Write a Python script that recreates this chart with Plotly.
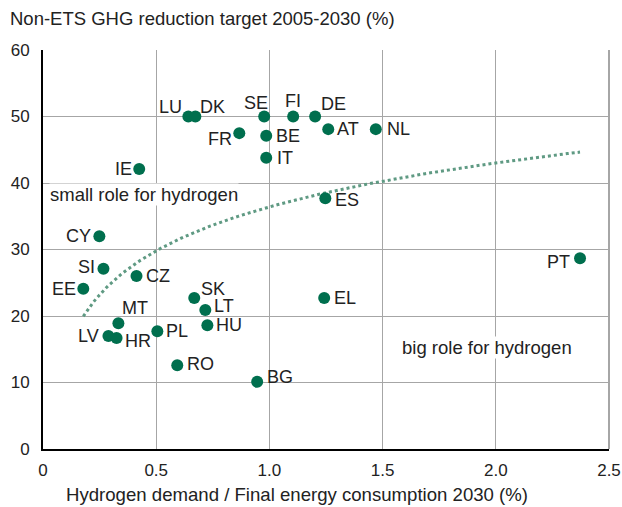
import numpy as np
import plotly.graph_objects as go

# Member states: hydrogen share of final energy demand 2030 (%) vs non-ETS GHG target (%)
countries = ["LU", "DK", "SE", "FI", "DE", "FR", "BE", "AT", "NL", "IT", "IE", "ES",
             "CY", "SI", "CZ", "EE", "SK", "LT", "HU", "EL", "MT", "LV", "HR", "PL",
             "RO", "BG", "PT"]
h2_share = [0.642, 0.673, 0.977, 1.105, 1.202, 0.867, 0.986, 1.26, 1.47, 0.986, 0.425, 1.247,
            0.249, 0.267, 0.413, 0.178, 0.668, 0.717, 0.726, 1.242, 0.333, 0.289, 0.325, 0.505,
            0.593, 0.946, 2.372]
ghg_target = [50, 50, 50, 50, 50, 47.5, 47.1, 48.1, 48.1, 43.8, 42.1, 37.7,
              32.0, 27.1, 26.0, 24.1, 22.7, 20.9, 18.6, 22.7, 18.9, 17.0, 16.7, 17.7,
              12.6, 10.1, 28.7]

# label placement per country: (xanchor, yanchor, xshift, yshift)
label_pos = {
    "LU": ("right", "middle", -4, 10), "DK": ("left", "middle", 3, 10),
    "SE": ("center", "middle", -8, 14), "FI": ("center", "middle", 0, 16),
    "DE": ("left", "middle", 4, 13), "FR": ("right", "middle", -5, -6),
    "BE": ("left", "middle", 8, 0), "AT": ("left", "middle", 7, 0),
    "NL": ("left", "middle", 9, 0), "IT": ("left", "middle", 9, 0),
    "IE": ("right", "middle", -5, 0), "ES": ("left", "middle", 8, -2),
    "CY": ("right", "middle", -6, 0), "SI": ("right", "middle", -6, 2),
    "CZ": ("left", "middle", 7, 0), "EE": ("right", "middle", -5, 0),
    "SK": ("left", "middle", 5, 9), "LT": ("left", "middle", 7, 4),
    "HU": ("left", "middle", 7, 0), "EL": ("left", "middle", 8, 0),
    "MT": ("left", "middle", 2, 15), "LV": ("right", "middle", -7, 0),
    "HR": ("left", "middle", 6, -3), "PL": ("left", "middle", 7, 0),
    "RO": ("left", "middle", 8, 1), "BG": ("left", "middle", 8, 5),
    "PT": ("right", "middle", -8, -4),
}

GREEN = "#006f4e"
INK = "#222222"
FONT = "Liberation Sans, Arial, sans-serif"

# logarithmic trendline fitted to all countries
lx = np.log(np.array(h2_share))
b, a = np.polyfit(lx, np.array(ghg_target), 1)
xs = np.linspace(min(h2_share), max(h2_share), 200)
ys = a + b * np.log(xs)

fig = go.Figure()
fig.add_trace(go.Scatter(
    x=xs, y=ys, mode="lines",
    line=dict(color="#5f9a83", width=3, dash="dot"),
    hoverinfo="skip", showlegend=False,
))
fig.add_trace(go.Scatter(
    x=h2_share, y=ghg_target, mode="markers", text=countries,
    marker=dict(color=GREEN, size=12),
    showlegend=False,
))

for c, xv, yv in zip(countries, h2_share, ghg_target):
    xa, ya, dx, dy = label_pos[c]
    fig.add_annotation(x=xv, y=yv, text=c, showarrow=False,
                       xanchor=xa, yanchor=ya, xshift=dx, yshift=dy,
                       font=dict(size=18, color=INK, family=FONT))

fig.add_annotation(x=0.026, y=38.2, text="small role for hydrogen", showarrow=False,
                   xanchor="left", yanchor="middle", bgcolor="white", borderpad=0,
                   font=dict(size=18.5, color=INK, family=FONT))
fig.add_annotation(x=1.58, y=15.3, text="big role for hydrogen", showarrow=False,
                   xanchor="left", yanchor="middle", bgcolor="white", borderpad=0,
                   font=dict(size=18.5, color=INK, family=FONT))

# axis captions
fig.add_annotation(xref="paper", yref="paper", x=-0.062, y=1.08,
                   text="Non-ETS GHG reduction target 2005-2030 (%)", showarrow=False,
                   xanchor="left", yanchor="middle",
                   font=dict(size=18.5, color=INK, family=FONT))
fig.add_annotation(xref="paper", yref="paper", x=0.449, y=-0.113,
                   text="Hydrogen demand / Final energy consumption 2030 (%)", showarrow=False,
                   xanchor="center", yanchor="middle",
                   font=dict(size=18.6, color=INK, family=FONT))

fig.update_xaxes(
    range=[0, 2.5], tickvals=[0, 0.5, 1.0, 1.5, 2.0, 2.5],
    ticktext=["0", "0.5", "1.0", "1.5", "2.0", "2.5"],
    showgrid=True, gridcolor="#a6a6a6", gridwidth=1,
    showline=True, linecolor="black", linewidth=2,
    ticks="", zeroline=False, ticklabelstandoff=5, automargin=False,
    tickfont=dict(size=17, color=INK, family=FONT),
)
fig.update_yaxes(
    range=[0, 60], tickvals=[0, 10, 20, 30, 40, 50, 60],
    showgrid=True, gridcolor="#a6a6a6", gridwidth=1,
    showline=True, linecolor="black", linewidth=2,
    ticks="", zeroline=False, ticklabelstandoff=8, automargin=False,
    tickfont=dict(size=17, color=INK, family=FONT),
)
# grey frame line on the right edge of the plot area
fig.add_shape(type="line", xref="paper", yref="paper", x0=1, x1=1, y0=0, y1=1,
              line=dict(color="#a6a6a6", width=2), layer="below")

fig.update_layout(
    width=622, height=507,
    margin=dict(l=43, r=13, t=50, b=58),
    plot_bgcolor="white", paper_bgcolor="white",
    font=dict(family=FONT),
)

fig.write_html("out.html")
